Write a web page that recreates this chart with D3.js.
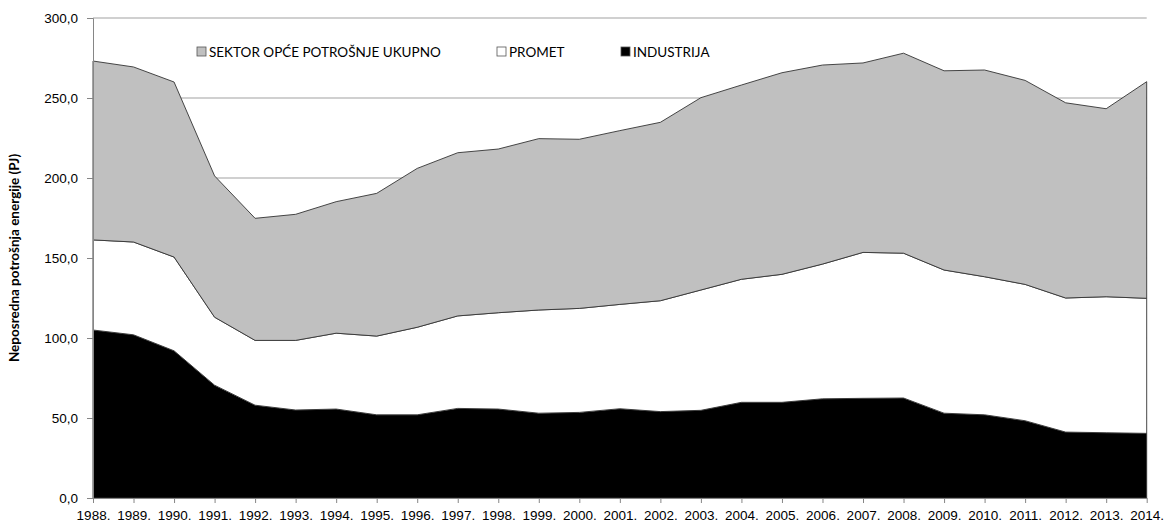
<!DOCTYPE html>
<html>
<head>
<meta charset="utf-8">
<script src="https://cdn.jsdelivr.net/npm/d3@7"></script>
<style>
  body { margin: 0; background: #fff; }
  svg { display: block; font-family: Lato, "Open Sans", sans-serif; }
</style>
</head>
<body>
<svg id="chart" width="1165" height="524"></svg>
<script>
// years on the x axis
var years = [1988, 1989, 1990, 1991, 1992, 1993, 1994, 1995, 1996, 1997, 1998, 1999, 2000,
             2001, 2002, 2003, 2004, 2005, 2006, 2007, 2008, 2009, 2010, 2011, 2012, 2013, 2014];

// PJ per sector (stacked: industrija at the bottom)
var industrija = [105, 102, 92, 70.5, 58, 55, 55.6, 52, 52, 56, 55.6, 53, 53.5,
                  55.8, 54, 54.8, 59.8, 59.8, 62, 62.3, 62.5, 53, 52, 48.3, 41.2, 40.8, 40.4];
var promet = [56.3, 58, 58.6, 42.5, 40.5, 43.5, 47.4, 49.2, 54.7, 57.8, 60.2, 64.5, 65,
              65.2, 69.3, 75.2, 76.9, 80, 84.2, 91.2, 90.5, 89.5, 86.3, 85.2, 83.8, 85, 84.4];
var sektor = [111.8, 109.4, 109.4, 88.3, 76.3, 78.8, 82.2, 89.2, 99.3, 102, 102.3, 107.1, 105.7,
              108.6, 111.5, 120.2, 121.4, 126, 124.4, 118.4, 125, 124.5, 129.2, 127.5, 122, 117.5, 135.4];

var yTicks = [0, 50, 100, 150, 200, 250, 300];

var series = [
    {key: "industrija", label: "INDUSTRIJA", color: "#000000"},
    {key: "promet", label: "PROMET", color: "#ffffff"},
    {key: "sektor", label: "SEKTOR OPĆE POTROŠNJE UKUPNO", color: "#c0c0c0"}
];

var rows = years.map(function(y, i) {
    return {year: y, industrija: industrija[i], promet: promet[i], sektor: sektor[i]};
});

var svg = d3.select("#chart");
var margin = {left: 93, right: 18, top: 18, bottom: 26};
var W = 1165, H = 524;

var x = d3.scaleLinear().domain([1988, 2014]).range([margin.left, W - margin.right - 0.3]);
var y = d3.scaleLinear().domain([0, 300]).range([H - margin.bottom, margin.top]);

/* gridlines */
svg.append("g").selectAll("line").data(yTicks.slice(1)).join("line")
    .attr("x1", x(1988)).attr("x2", x(2014))
    .attr("y1", d => y(d)).attr("y2", d => y(d))
    .attr("stroke", "#c0c0c0").attr("stroke-width", 1.3);

/* stacked areas */
var stacked = d3.stack().keys(["industrija", "promet", "sektor"])(rows);
var area = d3.area()
    .x(d => x(d.data.year))
    .y0(d => y(d[0]))
    .y1(d => y(d[1]));

svg.append("g").selectAll("path").data(stacked).join("path")
    .attr("d", area)
    .attr("fill", (d, i) => series[i].color)
    .attr("stroke", "#333")
    .attr("stroke-width", 0.9)
    .attr("stroke-linejoin", "round");

/* y axis */
var yAxis = svg.append("g").attr("transform", "translate(" + margin.left + ",0)")
    .call(d3.axisLeft(y).tickValues(yTicks).tickSize(6).tickPadding(9)
        .tickFormat(d => d3.format(".1f")(d).replace(".", ",")));
yAxis.select(".domain").attr("stroke", "#868686");
yAxis.selectAll(".tick line").attr("stroke", "#868686");
yAxis.selectAll("text").attr("font-size", 13.5).attr("fill", "#000").attr("font-family", null);

/* x axis */
var xAxis = svg.append("g").attr("transform", "translate(0," + y(0) + ")")
    .call(d3.axisBottom(x).tickValues(years).tickSize(5).tickSizeOuter(0).tickPadding(7)
        .tickFormat(d => d + "."));
xAxis.select(".domain").attr("stroke", "#868686");
xAxis.selectAll(".tick line").attr("stroke", "#868686");
xAxis.selectAll("text").attr("font-size", 13.5).attr("fill", "#000").attr("font-family", null);

/* y axis title */
svg.append("text")
    .attr("transform", "translate(19," + ((margin.top + H - margin.bottom) / 2) + ") rotate(-90)")
    .attr("text-anchor", "middle")
    .attr("font-size", 13.5)
    .attr("font-weight", "bold")
    .text("Neposredna potrošnja energije (PJ)");

/* legend */
var legendItems = [series[2], series[1], series[0]];
var legendX = [197, 497, 621];
var legend = svg.append("g").selectAll("g").data(legendItems).join("g")
    .attr("transform", (d, i) => "translate(" + legendX[i] + ",47)");
legend.append("rect")
    .attr("width", 9).attr("height", 9)
    .attr("fill", d => d.color)
    .attr("stroke", "#555").attr("stroke-width", 0.8);
legend.append("text")
    .attr("x", 12).attr("y", 9.5)
    .attr("font-size", 13.5)
    .text(d => d.label);
</script>
</body>
</html>
